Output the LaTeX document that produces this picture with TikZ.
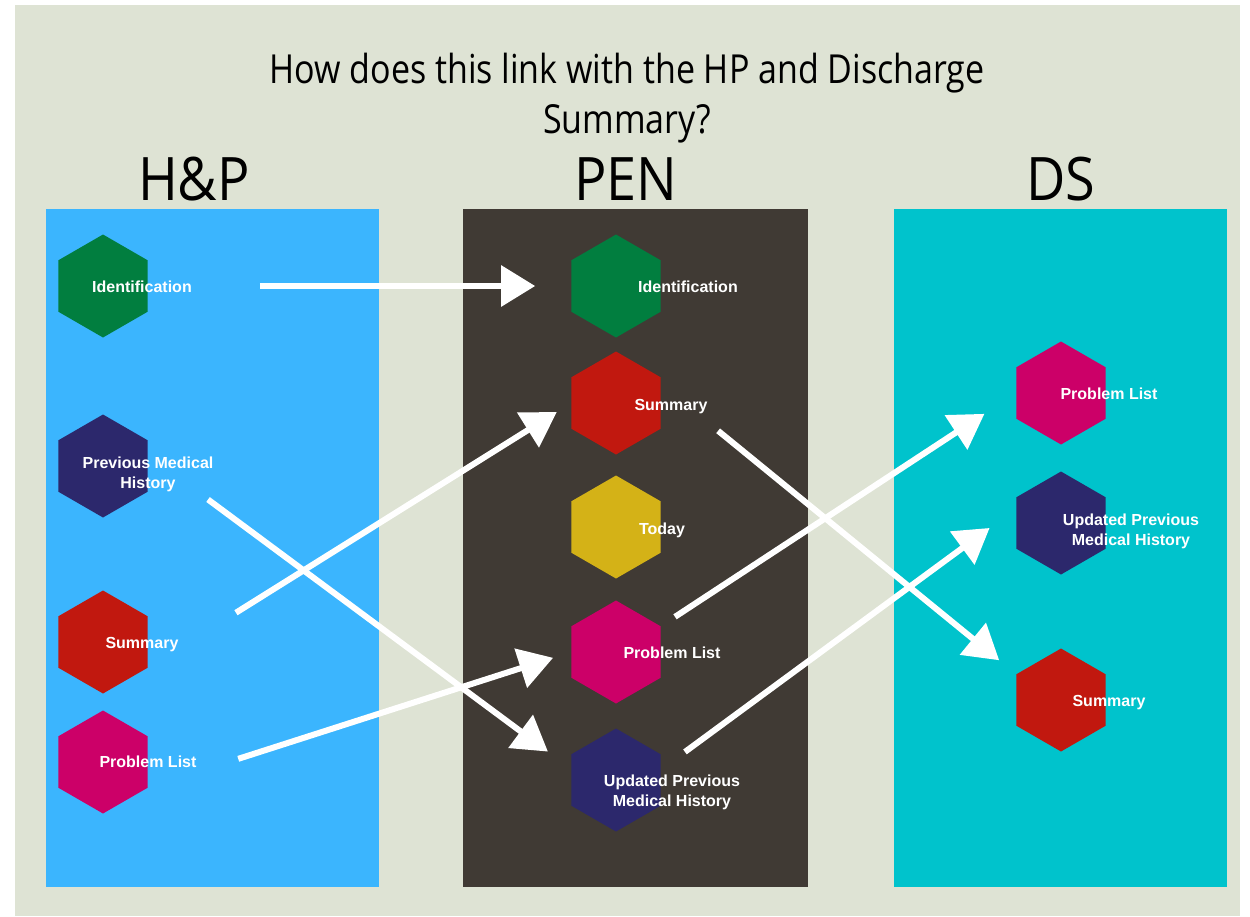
\documentclass[tikz,border=0pt]{standalone}
\usepackage{fontspec}
\setmainfont{Liberation Sans}
\newfontfamily\titlefont[FakeStretch=0.85]{Open Sans}
\newfontfamily\headfont[FakeStretch=0.9]{Open Sans}
\usepackage{tikz}
\usetikzlibrary{shapes.geometric}
\usetikzlibrary{arrows.meta}

\definecolor{sage}{RGB}{222,227,212}
\definecolor{hpblue}{RGB}{59,181,254}
\definecolor{penbrown}{RGB}{64,58,52}
\definecolor{dsteal}{RGB}{0,195,204}
\definecolor{hexgreen}{RGB}{1,126,63}
\definecolor{hexnavy}{RGB}{44,40,108}
\definecolor{hexred}{RGB}{193,24,15}
\definecolor{hexpink}{RGB}{204,0,104}
\definecolor{hexgold}{RGB}{212,178,23}

\tikzset{
  hexa/.style={regular polygon, regular polygon sides=6, shape border rotate=30,
               minimum size=103pt, inner sep=0pt, fill=#1},
  tag/.style={text=white, align=center, inner sep=0pt,
              font=\bfseries\fontsize{16}{20}\selectfont},
  head/.style={font=\headfont\fontsize{60}{60}\selectfont, anchor=base},
  flow/.style={draw=white, line width=6pt, -{Triangle[length=34pt,width=40pt]}},
}

\begin{document}
\begin{tikzpicture}[x=1pt,y=-1pt]
    \useasboundingbox (0,0) rectangle (1250,916);
    \fill[white] (0,0) rectangle (1250,916);
    \fill[sage] (15,5) rectangle (1240,916);

    % the three columns
    \fill[hpblue] (46,209) rectangle (379,887);
    \fill[penbrown] (463,209) rectangle (808,887);
    \fill[dsteal] (894,209) rectangle (1227,887);

    \node[font=\titlefont\fontsize{40}{40}\selectfont, anchor=base] (title1) at (627,83) {How does this link with the HP and Discharge};
    \node[font=\titlefont\fontsize{40}{40}\selectfont, anchor=base] (title2) at (627,133) {Summary?};

    \node[head] (hpHead) at (194,200) {H\&P};
    \node[head] (penHead) at (626,200) {PEN};
    \node[head] (dsHead) at (1061,200) {DS};

    % H&P
    \node[hexa=hexgreen] (hpId) at (103,286) {};
    \node[hexa=hexnavy] (hpPmh) at (103,466) {};
    \node[hexa=hexred] (hpSum) at (103,642) {};
    \node[hexa=hexpink] (hpPl) at (103,762) {};
    \node[tag] (hpIdT) at ([xshift=39pt,yshift=-1pt]hpId.center) {Identification};
    \node[tag] (hpPmhT) at ([xshift=45pt,yshift=-8pt]hpPmh.center) {Previous Medical\\History};
    \node[tag] (hpSumT) at ([xshift=39pt,yshift=-3pt]hpSum.center) {Summary};
    \node[tag] (hpPlT) at ([xshift=45pt]hpPl.center) {Problem List};

    % PEN
    \node[hexa=hexgreen] (penId) at (616,286) {};
    \node[hexa=hexred] (penSum) at (616,403) {};
    \node[hexa=hexgold] (penToday) at (616,527) {};
    \node[hexa=hexpink] (penPl) at (616,652) {};
    \node[hexa=hexnavy] (penUpd) at (616,780) {};
    \node[tag] (penIdT) at ([xshift=72pt,yshift=-1pt]penId.center) {Identification};
    \node[tag] (penSumT) at ([xshift=55pt,yshift=-4pt]penSum.center) {Summary};
    \node[tag] (penTodayT) at ([xshift=46pt,yshift=-3pt]penToday.center) {Today};
    \node[tag] (penPlT) at ([xshift=56pt,yshift=-1pt]penPl.center) {Problem List};
    \node[tag] (penUpdT) at ([xshift=56pt,yshift=-12pt]penUpd.center) {Updated Previous\\Medical History};

    % DS
    \node[hexa=hexpink] (dsPl) at (1061,393) {};
    \node[hexa=hexnavy] (dsUpd) at (1061,523) {};
    \node[hexa=hexred] (dsSum) at (1061,700) {};
    \node[tag] (dsPlT) at ([xshift=48pt,yshift=-1pt]dsPl.center) {Problem List};
    \node[tag] (dsUpdT) at ([xshift=70pt,yshift=-8pt]dsUpd.center) {Updated Previous\\Medical History};
    \node[tag] (dsSumT) at ([xshift=48pt,yshift=-3pt]dsSum.center) {Summary};

    % links between the notes
    \draw[flow, shorten <=112pt, shorten >=36pt] (hpId.0) -- (penId.180);
    \draw[flow, shorten <=104pt, shorten >=17pt] (hpSum.-30) -- (penSum.180);
    \draw[flow, shorten <=75pt, shorten >=29pt] (hpPmh.14) -- (penUpd.166);
    \draw[flow, shorten <=95pt, shorten >=19pt] (hpPl.-30) -- (penPl.180);
    \draw[flow, shorten <=74pt, shorten >=22pt] (penSum.23) -- (dsSum.150);
    \draw[flow, shorten <=17pt, shorten >=38pt] (penPl.30) -- (dsPl.180);
    \draw[flow, shorten <=30pt, shorten >=33pt] (penUpd.13) -- (dsUpd.162);
\end{tikzpicture}
\end{document}
